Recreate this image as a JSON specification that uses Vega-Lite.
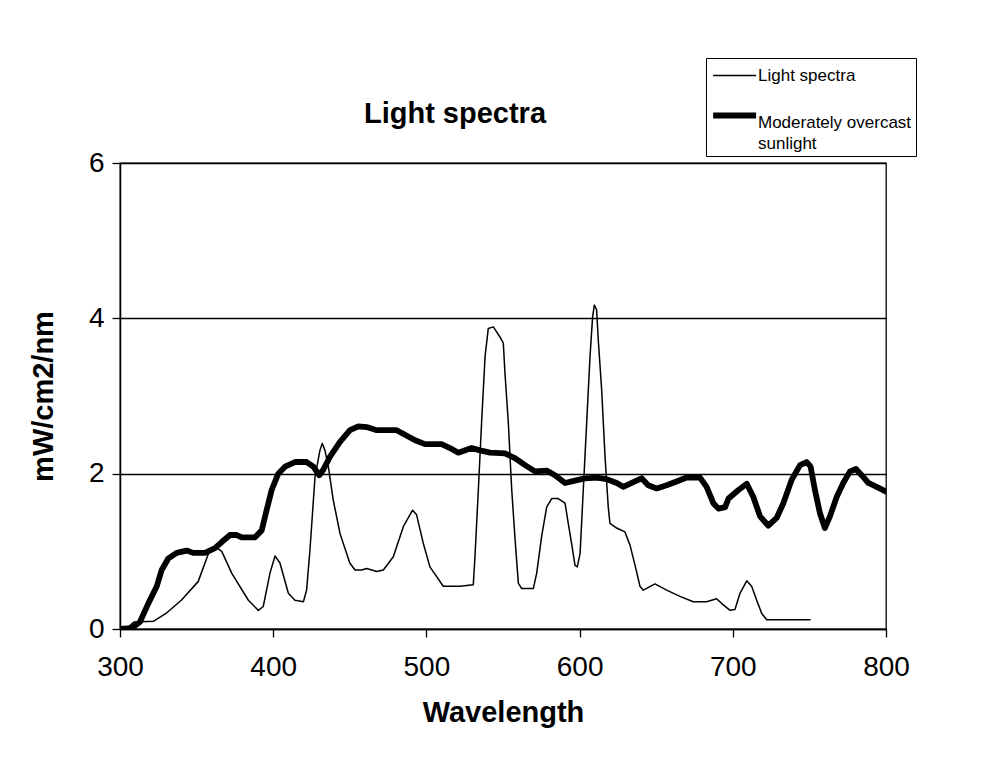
{
  "$schema": "https://vega.github.io/schema/vega-lite/v6.json",
  "autosize": {"type": "none"},
  "padding": {"left": 120, "top": 163, "right": 101, "bottom": 137},
  "width": 766,
  "height": 466,
  "background": "white",
  "title": {
    "text": "Light spectra",
    "font": "Liberation Sans",
    "fontSize": 29,
    "fontWeight": "bold",
    "color": "black",
    "anchor": "middle",
    "dx": -48,
    "baseline": "alphabetic",
    "offset": -94
  },
  "config": {
    "view": {"stroke": "black", "strokeWidth": 1.3},
    "axis": {
      "labelFont": "Liberation Sans",
      "titleFont": "Liberation Sans",
      "labelColor": "black",
      "titleColor": "black",
      "domainColor": "black",
      "tickColor": "black",
      "domainWidth": 1.5,
      "tickWidth": 1.3,
      "tickSize": 8
    }
  },
  "data": {
    "values": [
      {"wl": 300, "v": 0, "s": "Light spectra"},
      {"wl": 305, "v": 0.02, "s": "Light spectra"},
      {"wl": 309, "v": 0.09, "s": "Light spectra"},
      {"wl": 322, "v": 0.1, "s": "Light spectra"},
      {"wl": 330, "v": 0.2, "s": "Light spectra"},
      {"wl": 340, "v": 0.37, "s": "Light spectra"},
      {"wl": 351, "v": 0.61, "s": "Light spectra"},
      {"wl": 357.7, "v": 0.97, "s": "Light spectra"},
      {"wl": 362, "v": 1.06, "s": "Light spectra"},
      {"wl": 366.4, "v": 1.0, "s": "Light spectra"},
      {"wl": 372.9, "v": 0.72, "s": "Light spectra"},
      {"wl": 383.8, "v": 0.37, "s": "Light spectra"},
      {"wl": 390.3, "v": 0.24, "s": "Light spectra"},
      {"wl": 393.5, "v": 0.29, "s": "Light spectra"},
      {"wl": 397.9, "v": 0.72, "s": "Light spectra"},
      {"wl": 401.2, "v": 0.94, "s": "Light spectra"},
      {"wl": 404.4, "v": 0.85, "s": "Light spectra"},
      {"wl": 409.9, "v": 0.46, "s": "Light spectra"},
      {"wl": 414.2, "v": 0.37, "s": "Light spectra"},
      {"wl": 419.7, "v": 0.35, "s": "Light spectra"},
      {"wl": 421.8, "v": 0.5, "s": "Light spectra"},
      {"wl": 424, "v": 1.02, "s": "Light spectra"},
      {"wl": 427.3, "v": 1.96, "s": "Light spectra"},
      {"wl": 430.5, "v": 2.3, "s": "Light spectra"},
      {"wl": 432, "v": 2.39, "s": "Light spectra"},
      {"wl": 433.8, "v": 2.3, "s": "Light spectra"},
      {"wl": 436, "v": 2.09, "s": "Light spectra"},
      {"wl": 439.2, "v": 1.66, "s": "Light spectra"},
      {"wl": 443.6, "v": 1.23, "s": "Light spectra"},
      {"wl": 450, "v": 0.85, "s": "Light spectra"},
      {"wl": 453.4, "v": 0.76, "s": "Light spectra"},
      {"wl": 457.7, "v": 0.76, "s": "Light spectra"},
      {"wl": 461, "v": 0.78, "s": "Light spectra"},
      {"wl": 467.6, "v": 0.74, "s": "Light spectra"},
      {"wl": 471.9, "v": 0.76, "s": "Light spectra"},
      {"wl": 478.4, "v": 0.93, "s": "Light spectra"},
      {"wl": 485, "v": 1.32, "s": "Light spectra"},
      {"wl": 491, "v": 1.53, "s": "Light spectra"},
      {"wl": 493.6, "v": 1.47, "s": "Light spectra"},
      {"wl": 498, "v": 1.1, "s": "Light spectra"},
      {"wl": 502.3, "v": 0.8, "s": "Light spectra"},
      {"wl": 511, "v": 0.55, "s": "Light spectra"},
      {"wl": 522, "v": 0.55, "s": "Light spectra"},
      {"wl": 530.6, "v": 0.57, "s": "Light spectra"},
      {"wl": 531.7, "v": 0.93, "s": "Light spectra"},
      {"wl": 533.9, "v": 1.79, "s": "Light spectra"},
      {"wl": 536, "v": 2.65, "s": "Light spectra"},
      {"wl": 538.3, "v": 3.51, "s": "Light spectra"},
      {"wl": 540.4, "v": 3.87, "s": "Light spectra"},
      {"wl": 543.7, "v": 3.89, "s": "Light spectra"},
      {"wl": 548, "v": 3.76, "s": "Light spectra"},
      {"wl": 550.2, "v": 3.68, "s": "Light spectra"},
      {"wl": 551.3, "v": 3.29, "s": "Light spectra"},
      {"wl": 553.5, "v": 2.65, "s": "Light spectra"},
      {"wl": 555.7, "v": 1.79, "s": "Light spectra"},
      {"wl": 557.9, "v": 1.15, "s": "Light spectra"},
      {"wl": 560, "v": 0.59, "s": "Light spectra"},
      {"wl": 562.2, "v": 0.52, "s": "Light spectra"},
      {"wl": 569.8, "v": 0.52, "s": "Light spectra"},
      {"wl": 572, "v": 0.72, "s": "Light spectra"},
      {"wl": 575.2, "v": 1.19, "s": "Light spectra"},
      {"wl": 578.5, "v": 1.57, "s": "Light spectra"},
      {"wl": 581.8, "v": 1.68, "s": "Light spectra"},
      {"wl": 586, "v": 1.68, "s": "Light spectra"},
      {"wl": 590.5, "v": 1.62, "s": "Light spectra"},
      {"wl": 592.6, "v": 1.36, "s": "Light spectra"},
      {"wl": 594.8, "v": 1.1, "s": "Light spectra"},
      {"wl": 597, "v": 0.82, "s": "Light spectra"},
      {"wl": 598.5, "v": 0.8, "s": "Light spectra"},
      {"wl": 600.3, "v": 0.97, "s": "Light spectra"},
      {"wl": 602.4, "v": 1.79, "s": "Light spectra"},
      {"wl": 604.6, "v": 2.65, "s": "Light spectra"},
      {"wl": 606.8, "v": 3.51, "s": "Light spectra"},
      {"wl": 608.5, "v": 4.02, "s": "Light spectra"},
      {"wl": 609.6, "v": 4.17, "s": "Light spectra"},
      {"wl": 611.1, "v": 4.11, "s": "Light spectra"},
      {"wl": 612.2, "v": 3.72, "s": "Light spectra"},
      {"wl": 614.4, "v": 3.08, "s": "Light spectra"},
      {"wl": 616.6, "v": 2.22, "s": "Light spectra"},
      {"wl": 618.7, "v": 1.57, "s": "Light spectra"},
      {"wl": 619.8, "v": 1.36, "s": "Light spectra"},
      {"wl": 624.2, "v": 1.3, "s": "Light spectra"},
      {"wl": 629.6, "v": 1.25, "s": "Light spectra"},
      {"wl": 632.9, "v": 1.08, "s": "Light spectra"},
      {"wl": 636.2, "v": 0.82, "s": "Light spectra"},
      {"wl": 639.4, "v": 0.55, "s": "Light spectra"},
      {"wl": 641.6, "v": 0.5, "s": "Light spectra"},
      {"wl": 649.2, "v": 0.58, "s": "Light spectra"},
      {"wl": 656.8, "v": 0.5, "s": "Light spectra"},
      {"wl": 665.5, "v": 0.42, "s": "Light spectra"},
      {"wl": 674.2, "v": 0.35, "s": "Light spectra"},
      {"wl": 682.9, "v": 0.35, "s": "Light spectra"},
      {"wl": 689.4, "v": 0.39, "s": "Light spectra"},
      {"wl": 693.8, "v": 0.31, "s": "Light spectra"},
      {"wl": 698.2, "v": 0.24, "s": "Light spectra"},
      {"wl": 701.4, "v": 0.25, "s": "Light spectra"},
      {"wl": 704.7, "v": 0.46, "s": "Light spectra"},
      {"wl": 709.1, "v": 0.62, "s": "Light spectra"},
      {"wl": 712.3, "v": 0.55, "s": "Light spectra"},
      {"wl": 715.6, "v": 0.37, "s": "Light spectra"},
      {"wl": 718.9, "v": 0.2, "s": "Light spectra"},
      {"wl": 722.1, "v": 0.12, "s": "Light spectra"},
      {"wl": 750.4, "v": 0.12, "s": "Light spectra"},
      {"wl": 300, "v": 0, "s": "Moderately overcast sunlight"},
      {"wl": 307.6, "v": 0.01, "s": "Moderately overcast sunlight"},
      {"wl": 313, "v": 0.09, "s": "Moderately overcast sunlight"},
      {"wl": 318.5, "v": 0.33, "s": "Moderately overcast sunlight"},
      {"wl": 324, "v": 0.55, "s": "Moderately overcast sunlight"},
      {"wl": 327.2, "v": 0.76, "s": "Moderately overcast sunlight"},
      {"wl": 331.6, "v": 0.91, "s": "Moderately overcast sunlight"},
      {"wl": 337, "v": 0.98, "s": "Moderately overcast sunlight"},
      {"wl": 343.5, "v": 1.01, "s": "Moderately overcast sunlight"},
      {"wl": 347.8, "v": 0.98, "s": "Moderately overcast sunlight"},
      {"wl": 355.5, "v": 0.98, "s": "Moderately overcast sunlight"},
      {"wl": 362, "v": 1.04, "s": "Moderately overcast sunlight"},
      {"wl": 366.4, "v": 1.12, "s": "Moderately overcast sunlight"},
      {"wl": 371.8, "v": 1.21, "s": "Moderately overcast sunlight"},
      {"wl": 376.2, "v": 1.21, "s": "Moderately overcast sunlight"},
      {"wl": 379.4, "v": 1.18, "s": "Moderately overcast sunlight"},
      {"wl": 388.1, "v": 1.18, "s": "Moderately overcast sunlight"},
      {"wl": 392.5, "v": 1.27, "s": "Moderately overcast sunlight"},
      {"wl": 395.7, "v": 1.53, "s": "Moderately overcast sunlight"},
      {"wl": 399, "v": 1.79, "s": "Moderately overcast sunlight"},
      {"wl": 403.3, "v": 2.0, "s": "Moderately overcast sunlight"},
      {"wl": 407.7, "v": 2.09, "s": "Moderately overcast sunlight"},
      {"wl": 414.2, "v": 2.15, "s": "Moderately overcast sunlight"},
      {"wl": 421.8, "v": 2.15, "s": "Moderately overcast sunlight"},
      {"wl": 426.2, "v": 2.09, "s": "Moderately overcast sunlight"},
      {"wl": 430.1, "v": 1.98, "s": "Moderately overcast sunlight"},
      {"wl": 432.7, "v": 2.05, "s": "Moderately overcast sunlight"},
      {"wl": 437.1, "v": 2.22, "s": "Moderately overcast sunlight"},
      {"wl": 443.6, "v": 2.41, "s": "Moderately overcast sunlight"},
      {"wl": 450.1, "v": 2.56, "s": "Moderately overcast sunlight"},
      {"wl": 455.6, "v": 2.61, "s": "Moderately overcast sunlight"},
      {"wl": 461, "v": 2.6, "s": "Moderately overcast sunlight"},
      {"wl": 467.6, "v": 2.56, "s": "Moderately overcast sunlight"},
      {"wl": 480.6, "v": 2.56, "s": "Moderately overcast sunlight"},
      {"wl": 486, "v": 2.5, "s": "Moderately overcast sunlight"},
      {"wl": 492.6, "v": 2.43, "s": "Moderately overcast sunlight"},
      {"wl": 499.1, "v": 2.38, "s": "Moderately overcast sunlight"},
      {"wl": 509.9, "v": 2.38, "s": "Moderately overcast sunlight"},
      {"wl": 515.4, "v": 2.33, "s": "Moderately overcast sunlight"},
      {"wl": 520.8, "v": 2.27, "s": "Moderately overcast sunlight"},
      {"wl": 529.5, "v": 2.33, "s": "Moderately overcast sunlight"},
      {"wl": 535, "v": 2.3, "s": "Moderately overcast sunlight"},
      {"wl": 541.5, "v": 2.27, "s": "Moderately overcast sunlight"},
      {"wl": 551.3, "v": 2.26, "s": "Moderately overcast sunlight"},
      {"wl": 557.8, "v": 2.2, "s": "Moderately overcast sunlight"},
      {"wl": 564.4, "v": 2.11, "s": "Moderately overcast sunlight"},
      {"wl": 570.9, "v": 2.03, "s": "Moderately overcast sunlight"},
      {"wl": 578.5, "v": 2.04, "s": "Moderately overcast sunlight"},
      {"wl": 583.9, "v": 1.98, "s": "Moderately overcast sunlight"},
      {"wl": 590.5, "v": 1.88, "s": "Moderately overcast sunlight"},
      {"wl": 597, "v": 1.91, "s": "Moderately overcast sunlight"},
      {"wl": 603.5, "v": 1.94, "s": "Moderately overcast sunlight"},
      {"wl": 611.1, "v": 1.95, "s": "Moderately overcast sunlight"},
      {"wl": 617.6, "v": 1.93, "s": "Moderately overcast sunlight"},
      {"wl": 624.2, "v": 1.88, "s": "Moderately overcast sunlight"},
      {"wl": 628.5, "v": 1.83, "s": "Moderately overcast sunlight"},
      {"wl": 634, "v": 1.88, "s": "Moderately overcast sunlight"},
      {"wl": 640.5, "v": 1.94, "s": "Moderately overcast sunlight"},
      {"wl": 644.8, "v": 1.85, "s": "Moderately overcast sunlight"},
      {"wl": 650.3, "v": 1.81, "s": "Moderately overcast sunlight"},
      {"wl": 656.8, "v": 1.85, "s": "Moderately overcast sunlight"},
      {"wl": 663.3, "v": 1.9, "s": "Moderately overcast sunlight"},
      {"wl": 669.9, "v": 1.95, "s": "Moderately overcast sunlight"},
      {"wl": 678.6, "v": 1.95, "s": "Moderately overcast sunlight"},
      {"wl": 682.9, "v": 1.83, "s": "Moderately overcast sunlight"},
      {"wl": 687.3, "v": 1.62, "s": "Moderately overcast sunlight"},
      {"wl": 690.6, "v": 1.55, "s": "Moderately overcast sunlight"},
      {"wl": 695, "v": 1.57, "s": "Moderately overcast sunlight"},
      {"wl": 697.2, "v": 1.68, "s": "Moderately overcast sunlight"},
      {"wl": 703.7, "v": 1.79, "s": "Moderately overcast sunlight"},
      {"wl": 709.1, "v": 1.87, "s": "Moderately overcast sunlight"},
      {"wl": 713.4, "v": 1.7, "s": "Moderately overcast sunlight"},
      {"wl": 717.8, "v": 1.45, "s": "Moderately overcast sunlight"},
      {"wl": 723.2, "v": 1.33, "s": "Moderately overcast sunlight"},
      {"wl": 728.6, "v": 1.43, "s": "Moderately overcast sunlight"},
      {"wl": 733, "v": 1.62, "s": "Moderately overcast sunlight"},
      {"wl": 738.4, "v": 1.92, "s": "Moderately overcast sunlight"},
      {"wl": 743.9, "v": 2.11, "s": "Moderately overcast sunlight"},
      {"wl": 748.2, "v": 2.15, "s": "Moderately overcast sunlight"},
      {"wl": 750.8, "v": 2.09, "s": "Moderately overcast sunlight"},
      {"wl": 753.6, "v": 1.79, "s": "Moderately overcast sunlight"},
      {"wl": 756.9, "v": 1.49, "s": "Moderately overcast sunlight"},
      {"wl": 760.1, "v": 1.3, "s": "Moderately overcast sunlight"},
      {"wl": 763.4, "v": 1.45, "s": "Moderately overcast sunlight"},
      {"wl": 767.8, "v": 1.7, "s": "Moderately overcast sunlight"},
      {"wl": 772.1, "v": 1.88, "s": "Moderately overcast sunlight"},
      {"wl": 776.5, "v": 2.03, "s": "Moderately overcast sunlight"},
      {"wl": 780.4, "v": 2.06, "s": "Moderately overcast sunlight"},
      {"wl": 784.1, "v": 1.98, "s": "Moderately overcast sunlight"},
      {"wl": 788.5, "v": 1.88, "s": "Moderately overcast sunlight"},
      {"wl": 793.9, "v": 1.83, "s": "Moderately overcast sunlight"},
      {"wl": 800, "v": 1.77, "s": "Moderately overcast sunlight"}
    ]
  },
  "mark": {"type": "line", "color": "black", "strokeJoin": "round", "strokeCap": "round", "clip": true},
  "encoding": {
    "x": {
      "field": "wl",
      "type": "quantitative",
      "scale": {"domain": [300, 800], "nice": false, "zero": false},
      "axis": {
        "values": [300, 400, 500, 600, 700, 800],
        "grid": false,
        "title": "Wavelength",
        "titleFontSize": 29,
        "titleFontWeight": "bold",
        "titlePadding": 17,
        "labelFontSize": 28,
        "labelPadding": 16,
        "labelFlush": false
      }
    },
    "y": {
      "field": "v",
      "type": "quantitative",
      "scale": {"domain": [0, 6], "nice": false},
      "axis": {
        "values": [0, 2, 4, 6],
        "grid": true,
        "gridColor": "black",
        "gridOpacity": 1,
        "gridWidth": 1.3,
        "title": "mW/cm2/nm",
        "titleFontSize": 29,
        "titleFontWeight": "bold",
        "titlePadding": 30,
        "labelFontSize": 28,
        "labelPadding": 8,
        "labelFlush": false
      }
    },
    "detail": {"field": "s"},
    "strokeWidth": {
      "field": "s",
      "type": "ordinal",
      "scale": {"domain": ["Light spectra", "Moderately overcast sunlight"], "range": [1.5, 5.8]},
      "legend": {
        "title": " ",
        "titleFontSize": 2,
        "titlePadding": 3,
        "orient": "none",
        "legendX": 586,
        "legendY": -105,
        "direction": "vertical",
        "symbolType": "M-1,0H7",
        "symbolSize": 115.6,
        "symbolStrokeColor": "black",
        "symbolFillColor": "transparent",
        "labelFont": "Liberation Sans",
        "labelFontSize": 17,
        "labelColor": "black",
        "labelLimit": 400,
        "labelOffset": 31,
        "labelBaseline": "middle",
        "rowPadding": 19,
        "padding": 4,
        "strokeColor": "black",
        "fillColor": "white",
        "labelExpr": "datum.label == 'Moderately overcast sunlight' ? ['Moderately overcast', 'sunlight'] : datum.label",
        "encode": {
          "labels": {
            "update": {
              "dy": {"signal": "datum.value == 'Moderately overcast sunlight' ? 7 : 0"},
              "lineHeight": {"value": 21}
            }
          }
        }
      }
    }
  }
}
